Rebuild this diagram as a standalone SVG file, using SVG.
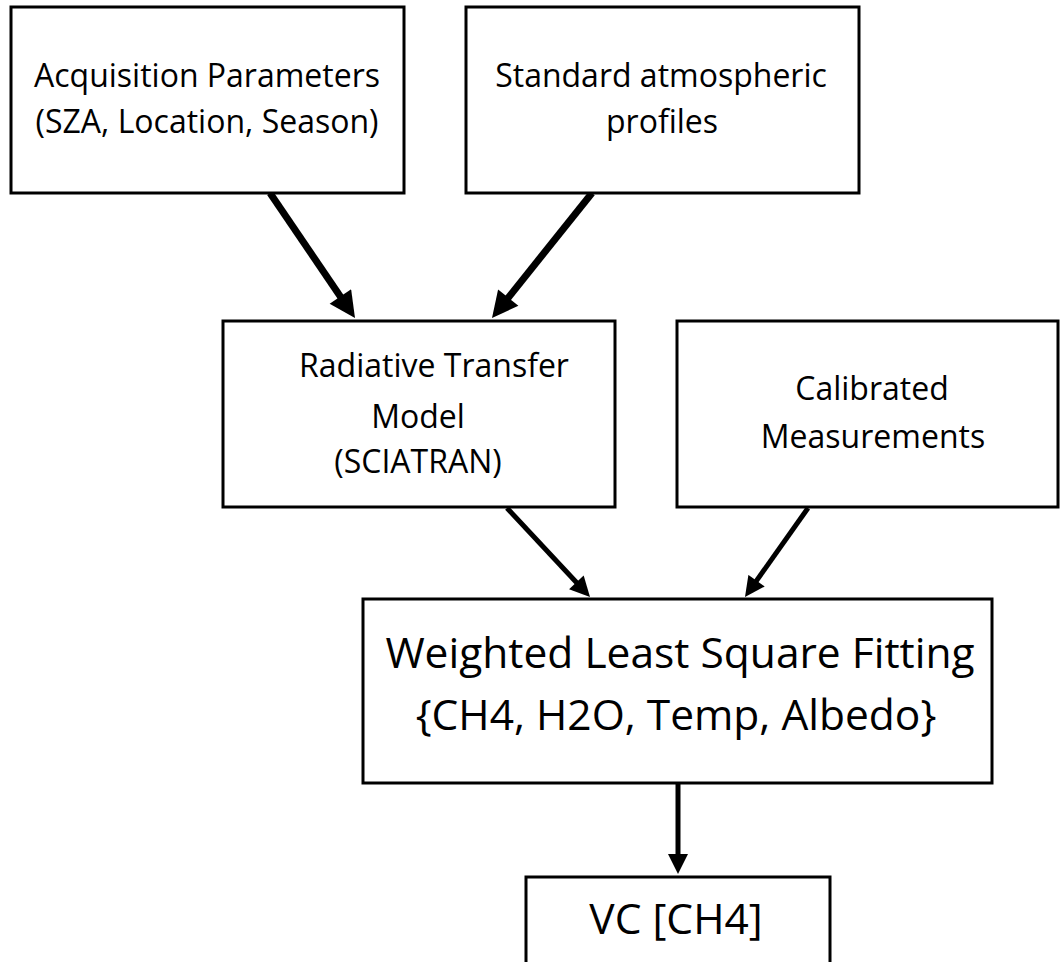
<svg xmlns="http://www.w3.org/2000/svg" width="1061" height="962" viewBox="0 0 1061 962">
<style>
.box{fill:#fff;stroke:#000;stroke-width:3}
.t{font-family:"Open Sans","Noto Sans","Liberation Sans",sans-serif;font-size:32px;fill:#000;text-anchor:middle}
.tl{font-family:"Open Sans","Noto Sans","Liberation Sans",sans-serif;font-size:42.5px;fill:#000;text-anchor:middle}
.c1{stroke:#000;stroke-width:7;fill:none}
.c2{stroke:#000;stroke-width:5;fill:none}
</style>
<defs>
<marker id="ahL" viewBox="0 0 10 10" refX="10" refY="5" markerWidth="28" markerHeight="26" markerUnits="userSpaceOnUse" orient="auto"><path d="M0,0 L10,5 L0,10 z" fill="#000"/></marker>
<marker id="ahM" viewBox="0 0 10 10" refX="10" refY="5" markerWidth="21" markerHeight="20" markerUnits="userSpaceOnUse" orient="auto"><path d="M0,0 L10,5 L0,10 z" fill="#000"/></marker>
</defs>
<rect width="1061" height="962" fill="#fff"/>
<g id="connectors">
<path class="c1" d="M270,193 L355,318" marker-end="url(#ahL)" stroke-dasharray="129 999"/>
<path class="c1" d="M592,193 L492,318" marker-end="url(#ahL)" stroke-dasharray="138 999"/>
<path class="c2" d="M507,508 L590,597" marker-end="url(#ahM)" stroke-dasharray="105 999"/>
<path class="c2" d="M808,508 L745,597" marker-end="url(#ahM)" stroke-dasharray="93 999"/>
<path class="c2" d="M678,784 L678,874" marker-end="url(#ahM)" stroke-dasharray="76 999"/>
</g>
<g id="acq">
<rect class="box" x="11" y="7" width="393" height="186"/>
<text class="t" x="207" y="87">Acquisition Parameters</text>
<text class="t" x="207" y="133">(SZA, Location, Season)</text>
</g>
<g id="std">
<rect class="box" x="466" y="7" width="393" height="186"/>
<text class="t" x="661" y="87">Standard atmospheric</text>
<text class="t" x="662" y="133">profiles</text>
</g>
<g id="rtm">
<rect class="box" x="223" y="321" width="392" height="186"/>
<text class="t" x="434" y="377">Radiative Transfer</text>
<text class="t" x="418" y="428">Model</text>
<text class="t" x="418" y="473">(SCIATRAN)</text>
</g>
<g id="cal">
<rect class="box" x="677" y="321" width="381" height="186"/>
<text class="t" x="872" y="400">Calibrated</text>
<text class="t" x="873" y="448">Measurements</text>
</g>
<g id="wls">
<rect class="box" x="363" y="599" width="629" height="184"/>
<text class="tl" x="680" y="668">Weighted Least Square Fitting</text>
<text class="tl" x="676" y="730">{CH4, H2O, Temp, Albedo}</text>
</g>
<g id="vc">
<rect class="box" x="526" y="877" width="304" height="100"/>
<text class="tl" x="676" y="934">VC [CH4]</text>
</g>
</svg>
